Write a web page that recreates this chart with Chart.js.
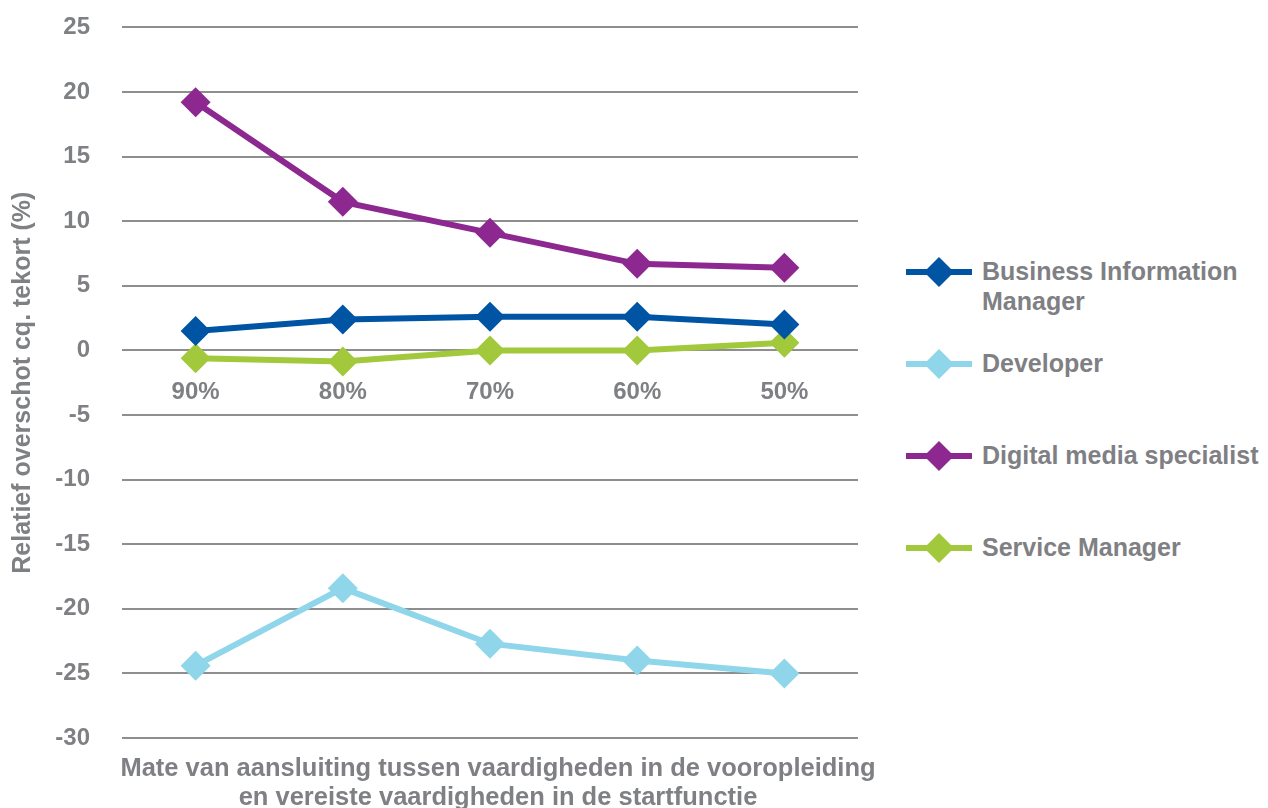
<!DOCTYPE html>
<html>
<head>
<meta charset="utf-8">
<script src="https://cdn.jsdelivr.net/npm/chart.js@4"></script>
<style>
    body { margin: 0; background: #fff; overflow: hidden; }
    #wrap { position: relative; width: 1268px; height: 808px; overflow: hidden; font-family: "Liberation Sans", Arial, sans-serif; font-weight: bold; color: #7f8084; }
    #chartBox { position: absolute; left: 0; top: -19px; width: 880px; height: 827px; }
    #xTitle { position: absolute; left: 98px; width: 800px; top: 753px; text-align: center; font-size: 25.5px; line-height: 29px; }
    #legend { position: absolute; left: 906px; top: 0; font-size: 25px; }
    .item { position: absolute; left: 0; display: flex; align-items: flex-start; width: 370px; }
    .item svg { flex: none; margin-right: 8px; }
    .item span { line-height: 30px; }
</style>
</head>
<body>
<div id="wrap">
    <div id="chartBox"><canvas id="lineChart"></canvas></div>
    <div id="xTitle">Mate van aansluiting tussen vaardigheden in de vooropleiding<br>en vereiste vaardigheden in de startfunctie</div>
    <div id="legend"></div>
</div>
<script>
const categories = ['90%', '80%', '70%', '60%', '50%'];
const seriesNames = ['Business Information Manager', 'Developer', 'Digital media specialist', 'Service Manager'];
const bimValues = [1.5, 2.4, 2.6, 2.6, 2.0];
const developerValues = [-24.4, -18.4, -22.7, -24.0, -25.0];
const digitalValues = [19.2, 11.5, 9.1, 6.7, 6.4];
const serviceValues = [-0.6, -0.85, 0, 0, 0.6];
const seriesColors = ['#0054a4', '#8fd6ea', '#8c2890', '#a2c93b'];
const legendTops = [256, 348, 440, 532];

const textGray = '#7f8084';
const gridGray = '#8e8e8e';
const fontFamily = '"Liberation Sans", Arial, sans-serif';

function makeDataset(i, values) {
    return {
        label: seriesNames[i],
        data: values,
        borderColor: seriesColors[i],
        backgroundColor: seriesColors[i],
        borderWidth: 6,
        pointStyle: 'rectRot',
        pointRadius: 15,
        pointHoverRadius: 15,
        pointBorderWidth: 0,
        tension: 0
    };
}

document.addEventListener('DOMContentLoaded', function () {
    const ctx = document.getElementById('lineChart').getContext('2d');
    new Chart(ctx, {
        type: 'line',
        data: {
            labels: categories,
            datasets: [
                makeDataset(0, bimValues),
                makeDataset(1, developerValues),
                makeDataset(2, digitalValues),
                makeDataset(3, serviceValues)
            ]
        },
        options: {
            responsive: true,
            maintainAspectRatio: false,
            animation: false,
            layout: { autoPadding: false, padding: { top: 12, right: 22, left: 0, bottom: 70 } },
            plugins: {
                legend: { display: false },
                tooltip: { enabled: false }
            },
            scales: {
                x: {
                    position: { y: 0 },
                    offset: true,
                    grid: { display: false },
                    border: { display: false },
                    ticks: {
                        color: textGray,
                        padding: 20,
                        font: { family: fontFamily, size: 24, weight: 'bold' }
                    }
                },
                y: {
                    min: -30,
                    max: 25,
                    afterFit: function (scale) { scale.width = 122; },
                    grid: { color: gridGray, lineWidth: 2, drawTicks: false },
                    border: { display: false },
                    ticks: {
                        stepSize: 5,
                        color: textGray,
                        padding: 32,
                        font: { family: fontFamily, size: 24, weight: 'bold' }
                    },
                    title: {
                        display: true,
                        text: 'Relatief overschot cq. tekort (%)',
                        color: textGray,
                        font: { family: fontFamily, size: 25, weight: 'bold' },
                        padding: { top: 8, bottom: 0 }
                    }
                }
            }
        }
    });

    const legend = document.getElementById('legend');
    seriesNames.forEach(function (name, i) {
        const item = document.createElement('div');
        item.className = 'item';
        item.style.top = legendTops[i] + 'px';
        const c = seriesColors[i];
        item.innerHTML =
            '<svg width="68" height="32" viewBox="0 0 68 32">' +
            '<line x1="0" y1="16" x2="66" y2="16" stroke="' + c + '" stroke-width="6"/>' +
            '<polygon points="33,1 48,16 33,31 18,16" fill="' + c + '"/></svg>' +
            '<span>' + (i === 0 ? 'Business Information<br>Manager' : name) + '</span>';
        legend.appendChild(item);
    });
});
</script>
</body>
</html>
